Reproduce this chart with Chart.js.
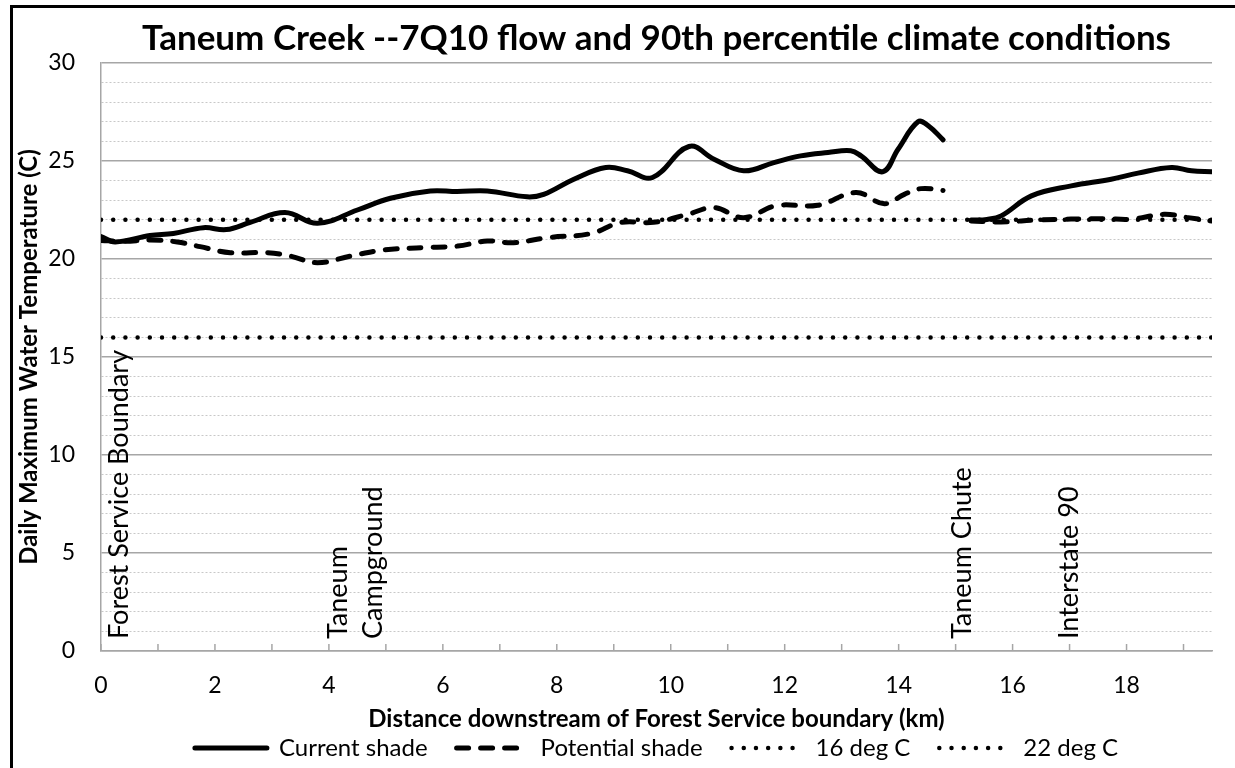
<!DOCTYPE html>
<html><head><meta charset="utf-8">
<script src="https://cdn.jsdelivr.net/npm/chart.js@4"></script>
<style>
html,body{margin:0;padding:0;background:#fff;}
#wrap{position:relative;width:1235px;height:768px;overflow:hidden;}
#frame{position:absolute;left:10px;top:5px;right:0;bottom:0;border-left:3px solid #000;border-top:3px solid #000;pointer-events:none;}
canvas{display:block;}
</style></head><body>
<div id="wrap"><canvas id="c" width="1235" height="768"></canvas><div id="frame"></div></div>
<script>
const FONT = "Lato, 'Open Sans', sans-serif";
const chartTitle = "Taneum Creek --7Q10 flow and 90th percentile climate conditions";
const xTitle = "Distance downstream of Forest Service boundary (km)";
const yTitle = "Daily Maximum Water Temperature (C)";
const seriesNames = ["Current shade", "Potential shade", "16 deg C", "22 deg C"];

// Current shade (null = break in the line)
const currentX = [0, 0.25, 0.86, 1.27, 1.8, 2.2, 2.62, 3.23, 3.8, 4.5, 5.08, 5.78, 6.25, 6.78, 7.48, 7.77, 8.3, 8.86, 9.24, 9.68, 10.32, 10.76, 11.28, 11.81, 12.28, 12.76, 13.16, 13.34, 13.72, 13.99, 14.34, 14.52, 14.78, 15.0, 15.27, 15.55, 15.8, 16.33, 17.03, 17.73, 18.2, 18.79, 19.14, 19.5];
const currentY = [21.15, 20.87, 21.2, 21.3, 21.6, 21.5, 21.87, 22.37, 21.82, 22.5, 23.1, 23.47, 23.44, 23.47, 23.17, 23.3, 24.07, 24.67, 24.5, 24.16, 25.74, 25.09, 24.5, 24.92, 25.26, 25.43, 25.52, 25.26, 24.45, 25.6, 27.0, 26.8, 26.08, null, 21.99, 22.02, 22.2, 23.22, 23.73, 24.07, 24.38, 24.67, 24.5, 24.45];

// Potential shade
const potentialX = [0, 0.4, 0.86, 1.34, 1.74, 2.27, 2.92, 3.32, 3.8, 4.38, 4.96, 5.66, 6.26, 6.78, 7.24, 7.84, 8.6, 9.12, 9.7, 10.3, 10.76, 11.28, 11.85, 12.58, 13.25, 13.75, 14.1, 14.39, 14.78, 15.0, 15.27, 15.8, 16.45, 17.6, 18.08, 18.66, 19.08, 19.5];
const potentialY = [20.95, 20.9, 20.97, 20.87, 20.63, 20.32, 20.32, 20.15, 19.81, 20.15, 20.46, 20.58, 20.66, 20.92, 20.83, 21.09, 21.3, 21.86, 21.87, 22.28, 22.62, 22.11, 22.72, 22.74, 23.39, 22.82, 23.3, 23.59, 23.5, null, 21.94, 21.89, 21.99, 22.06, 22.03, 22.28, 22.11, 21.94];

// Criteria lines
const criteriaX = [0, 19.5];
const crit16Y = [16, 16];
const crit22Y = [22, 22];

// Site labels along the stream (km)
const siteNames = ["Forest Service Boundary", "Taneum\nCampground", "Taneum Chute", "Interstate 90"];
const siteKm = [0.47, 4.32, 15.27, 17.15];

const pts = (xs, ys) => xs.map((x, i) => ({x: x, y: ys[i]}));

const innerTicks = {
  id: 'innerTicks',
  afterDatasetsDraw(chart) {
    const xs = chart.scales.x, ca = chart.chartArea, ctx = chart.ctx;
    ctx.save();
    ctx.strokeStyle = '#a6a6a6'; ctx.lineWidth = 1.5;
    xs.ticks.forEach(t => {
      const px = xs.getPixelForValue(t.value);
      ctx.beginPath(); ctx.moveTo(px, ca.bottom); ctx.lineTo(px, ca.bottom - 7); ctx.stroke();
    });
    ctx.restore();
  }
};

const siteLabels = {
  id: 'siteLabels',
  afterDatasetsDraw(chart) {
    const xs = chart.scales.x, ys = chart.scales.y, ctx = chart.ctx;
    ctx.save();
    ctx.fillStyle = '#000';
    ctx.font = "27px " + FONT;
    ctx.textAlign = 'left'; ctx.textBaseline = 'alphabetic';
    siteNames.forEach((name, i) => {
      name.split('\n').forEach((line, j) => {
        ctx.save();
        ctx.translate(xs.getPixelForValue(siteKm[i]) + j * 35, ys.getPixelForValue(0) - 12);
        ctx.rotate(-Math.PI / 2);
        ctx.fillText(line, 0, 0);
        ctx.restore();
      });
    });
    ctx.restore();
  }
};

const legendLabels = chart => Chart.defaults.plugins.legend.labels.generateLabels(chart).map(l => {
  const ds = chart.data.datasets[l.datasetIndex];
  return Object.assign(l, {lineDash: ds.borderDash || [], lineWidth: ds.borderWidth, lineCap: ds.borderCapStyle || 'butt',
    strokeStyle: ds.borderColor, fillStyle: ds.borderColor, pointStyle: 'line'});
});

new Chart(document.getElementById('c'), {
  type: 'line',
  data: {
    datasets: [
      {label: seriesNames[0], data: pts(currentX, currentY), borderColor: '#000', borderWidth: 5, borderCapStyle: 'round', tension: 0.4, pointRadius: 0},
      {label: seriesNames[1], data: pts(potentialX, potentialY), borderColor: '#000', borderWidth: 5, borderDash: [12, 12], borderCapStyle: 'round', tension: 0.4, pointRadius: 0},
      {label: seriesNames[2], data: pts(criteriaX, crit16Y), borderColor: '#000', borderWidth: 4.5, borderDash: [0, 12.2], borderCapStyle: 'round', pointRadius: 0},
      {label: seriesNames[3], data: pts(criteriaX, crit22Y), borderColor: '#000', borderWidth: 4.5, borderDash: [0, 12.2], borderCapStyle: 'round', pointRadius: 0}
    ]
  },
  options: {
    responsive: false,
    animation: false,
    devicePixelRatio: 1,
    layout: {padding: {left: 0, right: 23, top: 0, bottom: 0}},
    plugins: {
      tooltip: {enabled: false},
      title: {display: true, fullSize: false, text: chartTitle, color: '#000', font: {family: FONT, size: 35, weight: 'bold', lineHeight: 1.2}, padding: {top: 18, bottom: 3}},
      legend: {
        position: 'bottom', fullSize: false, maxHeight: 61,
        labels: {usePointStyle: true, pointStyle: 'line', pointStyleWidth: 72, padding: 29, color: '#000',
          font: {family: FONT, size: 24}, generateLabels: legendLabels}
      }
    },
    scales: {
      x: {
        type: 'linear', min: 0, max: 19.5,
        ticks: {stepSize: 1, includeBounds: false, autoSkip: false, maxRotation: 0, padding: 21, color: '#000', font: {family: FONT, size: 23},
          callback: v => (v % 2 === 0 ? String(v) : '')},
        grid: {drawOnChartArea: false, drawTicks: false},
        border: {color: '#a6a6a6', width: 1.5},
        title: {display: true, text: xTitle, color: '#000', font: {family: FONT, size: 24, weight: 'bold', lineHeight: 1.2}, padding: {top: 0, bottom: -27}},
        afterFit: s => { s.height = 56; }
      },
      y: {
        min: 0, max: 30,
        ticks: {stepSize: 1, autoSkip: false, padding: 26, color: '#000', font: {family: FONT, size: 23},
          callback: v => (v % 5 === 0 ? String(v) : '')},
        grid: {drawTicks: false,
          color: c => (c.tick && c.tick.value % 5 !== 0) ? '#c8c8c8' : '#a6a6a6',
          lineWidth: c => (c.tick && c.tick.value % 5 !== 0) ? 1 : 1.5},
        border: {color: '#a6a6a6', width: 1.5, dash: c => (c.tick && c.tick.value % 5 !== 0) ? [2, 2] : []},
        title: {display: true, text: yTitle, color: '#000', font: {family: FONT, size: 24, weight: 'bold', lineHeight: 1.2}, padding: {top: 15, bottom: 0}},
        afterFit: s => { s.width = 101; }
      }
    }
  },
  plugins: [innerTicks, siteLabels]
});
</script>
</body></html>
